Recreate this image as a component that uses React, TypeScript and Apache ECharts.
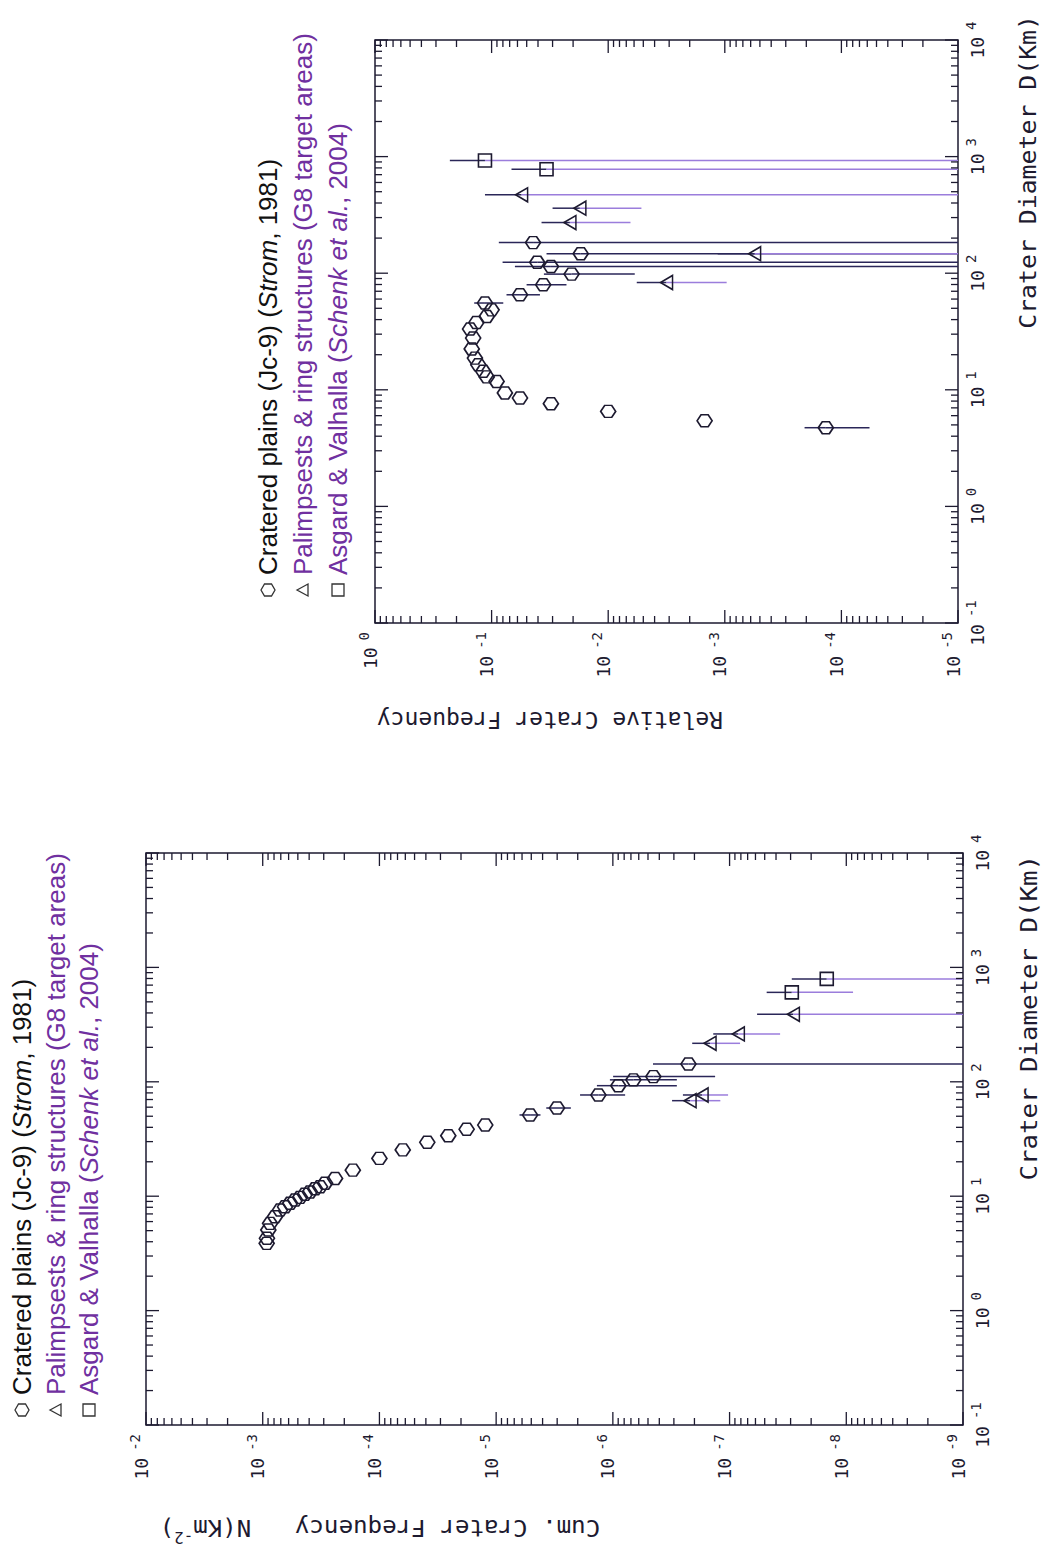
import React, { useEffect, useRef } from "react";
import * as echarts from "echarts";

// ---------------- Cumulative crater frequency (left panel of original) ----------------
// Cratered plains (Jc-9) (Strom, 1981)
const cumPlainsD = [3.87, 4.29, 5.07, 5.79, 6.62, 7.57, 8.09, 8.67, 9.27, 9.77, 10.4, 10.9, 11.6, 12.1, 13.0, 14.3, 16.9, 21.4, 25.4, 29.6, 33.8, 38.5, 41.9, 51.3, 59.0, 76.7, 92.5, 104, 111, 143];
const cumPlainsN = [9.25e-4, 9.2e-4, 8.95e-4, 8.65e-4, 7.85e-4, 7.11e-4, 6.44e-4, 5.83e-4, 5.28e-4, 4.79e-4, 4.35e-4, 3.94e-4, 3.56e-4, 3.23e-4, 2.92e-4, 2.4e-4, 1.69e-4, 1.0e-4, 6.31e-5, 3.89e-5, 2.57e-5, 1.79e-5, 1.24e-5, 5.12e-6, 3.01e-6, 1.33e-6, 8.97e-7, 6.67e-7, 4.5e-7, 2.25e-7];
const cumPlainsHi = [null, null, null, null, null, null, null, null, null, null, null, null, null, null, null, null, null, null, null, null, null, null, null, 6.31e-6, 3.72e-6, 1.91e-6, 1.37e-6, 1.06e-6, 9.95e-7, 4.53e-7];
const cumPlainsLo = [null, null, null, null, null, null, null, null, null, null, null, null, null, null, null, null, null, null, null, null, null, null, null, 4.17e-6, 2.29e-6, 7.85e-7, 2.83e-7, 2.83e-7, 1.33e-7, 0];
// Palimpsests & ring structures (G8 target areas)
const cumPalD = [68.4, 76.7, 217, 262, 389];
const cumPalN = [2.18e-7, 1.72e-7, 1.47e-7, 8.41e-8, 2.84e-8];
const cumPalHi = [3.11e-7, 2.51e-7, 2.09e-7, 1.38e-7, 5.81e-8];
const cumPalLo = [1.2e-7, 1.03e-7, 8.13e-8, 3.69e-8, 0];
// Asgard & Valhalla (Schenk et al., 2004)
const cumAsgD = [605, 793];
const cumAsgN = [2.93e-8, 1.47e-8];
const cumAsgHi = [4.81e-8, 2.93e-8];
const cumAsgLo = [8.75e-9, 0];

// ---------------- Relative crater frequency (right panel of original) ----------------
const relPlainsD = [183, 147, 124, 114, 98.2, 79.6, 65.3, 55.5, 48.5, 42.6, 37.8, 33.2, 27.8, 22.4, 18.7, 16.4, 14.4, 12.9, 11.8, 9.4, 8.51, 7.6, 6.53, 5.43, 4.73];
const relPlainsR = [0.0441, 0.0172, 0.0406, 0.031, 0.0206, 0.0361, 0.0571, 0.114, 0.1, 0.11, 0.135, 0.153, 0.144, 0.148, 0.139, 0.13, 0.118, 0.11, 0.0906, 0.0769, 0.0571, 0.031, 0.01, 0.00149, 0.000136];
const relPlainsHi = [0.0867, 0.0338, 0.0805, 0.0631, 0.0356, 0.0501, 0.0745, 0.141, null, null, null, null, null, null, null, null, null, null, null, null, null, null, null, null, 0.000207];
const relPlainsLo = [0, 0, 0, 0, 0.00592, 0.0228, 0.0385, 0.0794, null, null, null, null, null, null, null, null, null, null, null, null, null, null, null, null, 5.74e-5];
const relPalD = [470, 361, 272, 147, 83.2];
const relPalR = [0.0553, 0.0175, 0.0213, 0.000555, 0.00316];
const relPalHi = [0.114, 0.03, 0.0373, 0.00115, 0.00569];
const relPalLo = [0, 0.00519, 0.00644, 0, 0.000964];
const relAsgD = [925, 780];
const relAsgR = [0.114, 0.0338];
const relAsgHi = [0.228, 0.0675];
const relAsgLo = [0, 0];

// axis ranges (exponents of ten)
const diamExp = [-1, 4];
const cumExp = [-9, -2];
const relExp = [-5, 0];
const MINOR_MULTS = [2, 3, 4, 5, 6, 7, 8, 9];

// legend entries
const legendPlains = "{n|Cratered plains (Jc-9) (}{i|Strom}{n|, 1981)}";
const legendPal = "{p|Palimpsests & ring structures (G8 target areas)}";
const legendAsg = "{p|Asgard & Valhalla (}{pi|Schenk et al.}{p|, 2004)}";

const MONO = '"DejaVu Sans Mono", "Liberation Mono", monospace';
const SANS = '"Liberation Sans", Arial, sans-serif';
const INK = "#1d1a30";
const DARK = "#2a2658";
const PURPLE = "#7030a0";
const LOWER_TRI = "#9b7ddc";
const HEX = "path://M6,0 L12,4 L12,11 L6,15 L0,11 L0,4 Z";

function logTicks(e0: number, e1: number) {
  const out: number[][] = [];
  for (let e = e0; e <= e1; e++) {
    const base = Math.pow(10, e);
    out.push([base, 1]);
    if (e < e1) MINOR_MULTS.forEach((m) => out.push([m * base, 0]));
  }
  return out;
}

const expLabel = (v: number) => `{b|10}{e|${Math.round(Math.log10(v))}}`;
const labelRich = {
  b: { fontFamily: MONO, fontSize: 18, color: INK, lineHeight: 22, verticalAlign: "bottom" },
  e: { fontFamily: MONO, fontSize: 14, color: INK, lineHeight: 22, verticalAlign: "top", padding: [0, 0, 0, 7] },
};

function tickSeries(g: number, e0x: number, e1x: number, e0y: number, e1y: number) {
  const lineStyle = { stroke: INK, lineWidth: 1.3 };
  const xs = logTicks(e0x, e1x).map((t) => [t[0], Math.pow(10, e0y), t[1]]);
  const ys = logTicks(e0y, e1y).map((t) => [Math.pow(10, e0x), t[0], t[1]]);
  return [
    {
      type: "custom", xAxisIndex: g, yAxisIndex: g, silent: true, z: 5, data: xs,
      renderItem: (params: any, api: any) => {
        const cs = params.coordSys;
        const x = api.coord([api.value(0), api.value(1)])[0];
        const len = api.value(2) ? 13 : 7;
        const b = cs.y + cs.height;
        return {
          type: "group",
          children: [
            { type: "line", shape: { x1: x, y1: b, x2: x, y2: b - len }, style: lineStyle },
            { type: "line", shape: { x1: x, y1: cs.y, x2: x, y2: cs.y + len }, style: lineStyle },
          ],
        };
      },
    },
    {
      type: "custom", xAxisIndex: g, yAxisIndex: g, silent: true, z: 5, data: ys,
      renderItem: (params: any, api: any) => {
        const cs = params.coordSys;
        const y = api.coord([api.value(0), api.value(1)])[1];
        const len = api.value(2) ? 13 : 7;
        const r = cs.x + cs.width;
        return {
          type: "group",
          children: [
            { type: "line", shape: { x1: cs.x, y1: y, x2: cs.x + len, y2: y }, style: lineStyle },
            { type: "line", shape: { x1: r, y1: y, x2: r - len, y2: y }, style: lineStyle },
          ],
        };
      },
    },
  ];
}

function errSeries(g: number, D: number[], V: number[], hi: (number | null)[], lo: (number | null)[], lowerColor: string) {
  const data: number[][] = [];
  D.forEach((d, i) => {
    if (hi[i] != null) data.push([d, V[i], hi[i] as number, lo[i] as number]);
  });
  return {
    type: "custom", xAxisIndex: g, yAxisIndex: g, silent: true, z: 2, data,
    renderItem: (params: any, api: any) => {
      const cs = params.coordSys;
      const p = api.coord([api.value(0), api.value(1)]);
      let yHi = api.coord([api.value(0), api.value(2)])[1];
      const loV = api.value(3);
      let yLo = loV > 0 ? api.coord([api.value(0), loV])[1] : cs.y + cs.height;
      yHi = Math.max(yHi, cs.y);
      yLo = Math.min(yLo, cs.y + cs.height);
      return {
        type: "group",
        children: [
          { type: "line", shape: { x1: p[0], y1: yHi, x2: p[0], y2: p[1] }, style: { stroke: DARK, lineWidth: 1.5 } },
          { type: "line", shape: { x1: p[0], y1: p[1], x2: p[0], y2: yLo }, style: { stroke: lowerColor, lineWidth: 1.5 } },
        ],
      };
    },
  };
}

function scatter(g: number, D: number[], V: number[], symbol: string, size: any) {
  return {
    type: "scatter", xAxisIndex: g, yAxisIndex: g, z: 3, silent: true,
    data: D.map((d, i) => [d, V[i]]),
    symbol, symbolSize: size,
    itemStyle: { color: "rgba(0,0,0,0)", borderColor: INK, borderWidth: 1.6, opacity: 1 },
  };
}

function xAxis(g: number) {
  return {
    type: "log", gridIndex: g, logBase: 10, min: Math.pow(10, diamExp[0]), max: Math.pow(10, diamExp[1]), splitNumber: 10,
    axisLine: { show: false }, axisTick: { show: false }, splitLine: { show: false }, minorTick: { show: false },
    axisLabel: { formatter: expLabel, rich: labelRich, margin: 6, align: "center" },
  };
}
function yAxis(g: number, e: number[]) {
  return {
    type: "log", gridIndex: g, logBase: 10, min: Math.pow(10, e[0]), max: Math.pow(10, e[1]), splitNumber: 10,
    axisLine: { show: false }, axisTick: { show: false }, splitLine: { show: false }, minorTick: { show: false },
    axisLabel: { formatter: expLabel, rich: labelRich, margin: 9, padding: [0, 0, 14, 0] },
  };
}

function hexPoints(cx: number, cy: number) {
  return [[cx, cy - 7], [cx + 6, cy - 3.5], [cx + 6, cy + 3.5], [cx, cy + 7], [cx - 6, cy + 3.5], [cx - 6, cy - 3.5]];
}
const LEG_FS = 26;
const legRich = {
  n: { fontFamily: SANS, fontSize: LEG_FS, fill: "#111" },
  i: { fontFamily: SANS, fontSize: LEG_FS, fill: "#111", fontStyle: "italic" },
  p: { fontFamily: SANS, fontSize: LEG_FS, fill: PURPLE },
  pi: { fontFamily: SANS, fontSize: LEG_FS, fill: PURPLE, fontStyle: "italic" },
};
function legend(sx: number, tx: number, rows: number[]) {
  const sym = { stroke: "#333", lineWidth: 1.3, fill: "none" };
  return [
    { type: "polygon", shape: { points: hexPoints(sx, rows[0]) }, style: sym },
    { type: "text", x: tx, y: rows[0], style: { text: legendPlains, rich: legRich, verticalAlign: "middle", align: "left" } },
    { type: "polygon", shape: { points: [[sx, rows[1] - 6], [sx + 6, rows[1] + 5], [sx - 6, rows[1] + 5]] }, style: sym },
    { type: "text", x: tx, y: rows[1], style: { text: legendPal, rich: legRich, verticalAlign: "middle", align: "left" } },
    { type: "rect", shape: { x: sx - 6, y: rows[2] - 6, width: 12, height: 12 }, style: sym },
    { type: "text", x: tx, y: rows[2], style: { text: legendAsg, rich: legRich, verticalAlign: "middle", align: "left" } },
  ];
}
const titleRich = {
  n: { fontFamily: MONO, fontSize: 23, fill: INK, lineHeight: 28, verticalAlign: "bottom" },
  s: { fontFamily: MONO, fontSize: 15, fill: INK, lineHeight: 28, verticalAlign: "top" },
};

export default function App() {
  const ref = useRef<HTMLDivElement>(null);
  useEffect(() => {
    if (!ref.current) return;
    const chart = echarts.init(ref.current, null, { renderer: "svg" });
    const option: any = {
      animation: false,
      backgroundColor: "#fff",
      textStyle: { fontFamily: MONO },
      grid: [
        { left: 134, top: 146, width: 572, height: 817, show: true, borderColor: INK, borderWidth: 1.5, containLabel: false },
        { left: 936, top: 375, width: 583, height: 583, show: true, borderColor: INK, borderWidth: 1.5, containLabel: false },
      ],
      xAxis: [xAxis(0), xAxis(1)],
      yAxis: [yAxis(0, cumExp), yAxis(1, relExp)],
      series: [
        ...tickSeries(0, diamExp[0], diamExp[1], cumExp[0], cumExp[1]),
        ...tickSeries(1, diamExp[0], diamExp[1], relExp[0], relExp[1]),
        errSeries(0, cumPlainsD, cumPlainsN, cumPlainsHi, cumPlainsLo, DARK),
        errSeries(0, cumPalD, cumPalN, cumPalHi, cumPalLo, LOWER_TRI),
        errSeries(0, cumAsgD, cumAsgN, cumAsgHi, cumAsgLo, LOWER_TRI),
        errSeries(1, relPlainsD, relPlainsR, relPlainsHi, relPlainsLo, DARK),
        errSeries(1, relPalD, relPalR, relPalHi, relPalLo, LOWER_TRI),
        errSeries(1, relAsgD, relAsgR, relAsgHi, relAsgLo, LOWER_TRI),
        scatter(0, cumPlainsD, cumPlainsN, HEX, [12, 15]),
        scatter(0, cumPalD, cumPalN, "triangle", [14, 12]),
        scatter(0, cumAsgD, cumAsgN, "rect", 13),
        scatter(1, relPlainsD, relPlainsR, HEX, [12, 15]),
        scatter(1, relPalD, relPalR, "triangle", [14, 12]),
        scatter(1, relAsgD, relAsgR, "rect", 13),
      ],
      graphic: [
        ...legend(149, 164, [22, 56, 89]),
        ...legend(969, 984, [268, 303, 338]),
        { type: "text", x: 29, y: 380, rotation: Math.PI / 2, scaleX: 1.05, style: { text: "{n|Cum. Crater Frequency   N(Km}{s|-2}{n|)}", rich: titleRich, align: "center", verticalAlign: "middle" } },
        { type: "text", x: 837, y: 550, rotation: Math.PI / 2, style: { text: "{n|Relative Crater Frequency}", rich: titleRich, align: "center", verticalAlign: "middle" } },
        { type: "text", x: 704, y: 1026, scaleX: 1.12, style: { text: "{n|Crater Diameter D(Km)}", rich: titleRich, align: "right", verticalAlign: "middle" } },
        { type: "text", x: 1544, y: 1026, scaleX: 1.08, style: { text: "{n|Crater Diameter D(Km)}", rich: titleRich, align: "right", verticalAlign: "middle" } },
      ],
    };
    chart.setOption(option);
    return () => chart.dispose();
  }, []);
  return (
    <div style={{ position: "absolute", left: 0, top: 0, width: 1043, height: 1559, overflow: "hidden", background: "#fff" }}>
      <div
        ref={ref}
        style={{ position: "absolute", left: 0, top: 0, width: 1559, height: 1043, transformOrigin: "0 0", transform: "translate(0px, 1559px) rotate(-90deg)" }}
      />
    </div>
  );
}
